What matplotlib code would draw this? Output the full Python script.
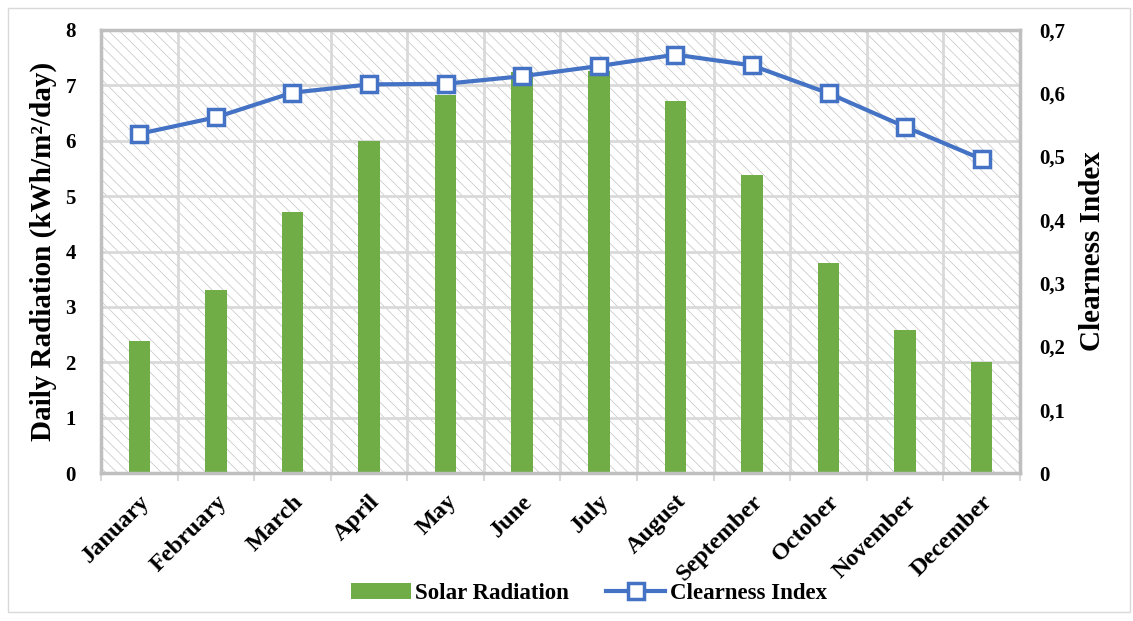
import matplotlib
matplotlib.use("Agg")
import matplotlib.pyplot as plt
from matplotlib.patches import Rectangle
from matplotlib.ticker import FixedLocator, FuncFormatter

months = ["January", "February", "March", "April", "May", "June", "July",
          "August", "September", "October", "November", "December"]
solar_radiation = [2.39, 3.31, 4.71, 6.0, 6.82, 7.24, 7.26, 6.71, 5.38, 3.80, 2.59, 2.0]
clearness_index = [0.536, 0.562, 0.601, 0.614, 0.615, 0.627, 0.643, 0.661, 0.644, 0.600, 0.547, 0.496]

plt.rcParams['font.family'] = ['Liberation Serif', 'DejaVu Serif']
plt.rcParams['font.weight'] = 'bold'
plt.rcParams['hatch.linewidth'] = 0.5

GRID = '#d9d9d9'
SPINE = '#bfbfbf'
GREEN = '#70ad47'
BLUE = '#4472c4'

fig = plt.figure(figsize=(11.33, 6.21), dpi=100)
ax = fig.add_axes([0.0891, 0.2383, 0.9003 - 0.0891, 0.9517 - 0.2383])
ax.set_facecolor('white')

# hatched plot-area background
bg = Rectangle((0, 0), 1, 1, transform=ax.transAxes, facecolor='white',
               edgecolor='#c4c4c4', linewidth=0, hatch='\\\\\\', zorder=0)
ax.add_patch(bg)

x = list(range(len(months)))
ax.bar(x, solar_radiation, width=0.28, color=GREEN, zorder=2, label='Solar Radiation')
ax.set_xlim(-0.5, len(months) - 0.5)
ax.set_ylim(0, 8)
ax.set_yticks(range(0, 9))
ax.set_xticks(x)
ax.set_xticklabels(months, rotation=45, ha='right', rotation_mode='anchor',
                   fontsize=17.5, fontweight='bold')
ax.xaxis.set_minor_locator(FixedLocator([i - 0.5 for i in range(len(months) + 1)]))
ax.tick_params(axis='x', which='major', length=0, pad=13)
ax.tick_params(axis='x', which='minor', length=6, color=GRID, width=1.5)
ax.tick_params(axis='y', length=0, pad=18, labelsize=15)
ax.set_axisbelow(True)
ax.grid(axis='y', which='major', color=GRID, linewidth=2)
ax.grid(axis='x', which='minor', color=GRID, linewidth=2)
for s in ax.spines.values():
    s.set_color(SPINE)
    s.set_linewidth(2.5)
ax.set_ylabel('Daily Radiation (kWh/m\u00b2/day)', fontsize=21, fontweight='bold', labelpad=6)

ax2 = ax.twinx()
ax2.plot(x, clearness_index, color=BLUE, linewidth=3, marker='s', markersize=11,
         markerfacecolor='white', markeredgecolor=BLUE, markeredgewidth=2.5,
         label='Clearness Index', zorder=3)
ax2.set_ylim(0, 0.7)
ax2.set_yticks([i / 10 for i in range(8)])
ax2.yaxis.set_major_formatter(FuncFormatter(
    lambda v, p: '0' if abs(v) < 1e-9 else f'{v:.1f}'.replace('.', ',')))
ax2.tick_params(axis='y', length=0, pad=14, labelsize=15)
for s in ax2.spines.values():
    s.set_visible(False)
ax2.set_ylabel('Clearness Index', fontsize=21, fontweight='bold', rotation=90, labelpad=10)

h1, l1 = ax.get_legend_handles_labels()
h2, l2 = ax2.get_legend_handles_labels()
fig.legend(h1 + h2, l1 + l2, loc='center', bbox_to_anchor=(0.52, 0.045), ncol=2,
           frameon=False, fontsize=16.5, handlelength=2.6, columnspacing=1.6,
           handletextpad=0.2)

# outer light border
fig.add_artist(Rectangle((0.007, 0.015), 0.99, 0.972, transform=fig.transFigure,
                         fill=False, edgecolor='#d9d9d9', linewidth=1))

fig.savefig('out.png', dpi=100)
